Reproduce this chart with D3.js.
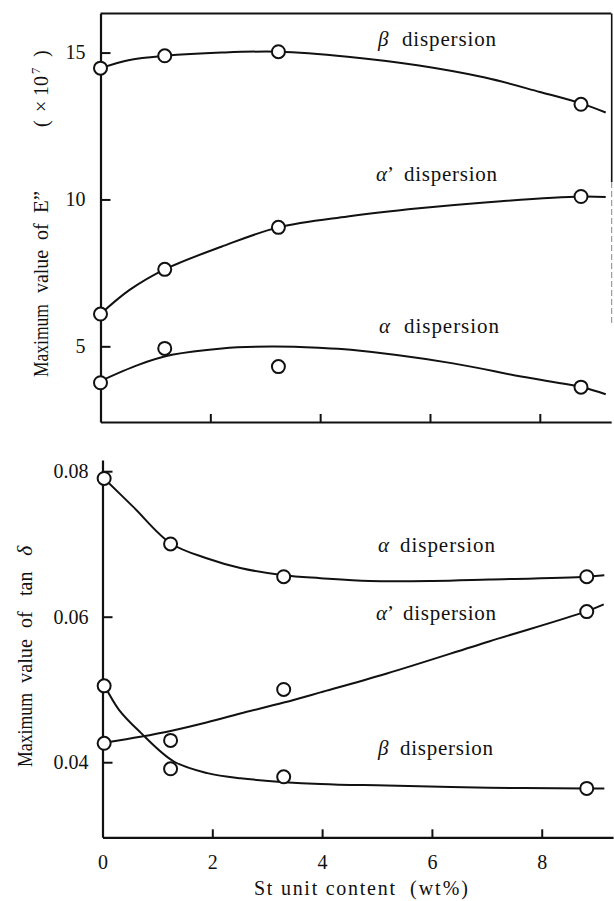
<!DOCTYPE html>
<html>
<head>
<meta charset="utf-8">
<script src="https://cdn.jsdelivr.net/npm/d3@7"></script>
<style>
  html, body { margin: 0; padding: 0; background: #fff; }
  svg { display: block; }
  text { font-family: "Liberation Serif", "DejaVu Serif", "Times New Roman", Times, serif; fill: #111; }
</style>
</head>
<body>
<svg id="chart" width="614" height="901"></svg>
<script>
// ---------------- DATA ----------------
// Upper panel: maximum value of E'' (x10^7)
const topX = [0, 1.17, 3.24, 8.75];
const eBeta = [14.47, 14.89, 15.03, 13.24];
const eAlphaPrime = [6.10, 7.62, 9.05, 10.10];
const eAlpha = [3.76, 4.93, 4.31, 3.61];

// hand-drawn fitted curves
const eBetaFit = [[0,14.47],[0.53,14.75],[1.17,14.89],[2.2,15.0],[3.24,15.03],[4.5,14.86],[5.8,14.56],[7.0,14.15],[8.0,13.66],[8.75,13.27],[9.2,12.96]];
const eAlphaPrimeFit = [[0,6.10],[0.53,6.92],[1.17,7.62],[2.2,8.39],[3.24,9.05],[4.5,9.42],[5.8,9.70],[7.0,9.90],[8.75,10.10],[9.2,10.08]];
const eAlphaFit = [[0,3.82],[0.69,4.37],[1.3,4.71],[2.21,4.93],[3.12,4.99],[3.97,4.95],[4.56,4.88],[6.42,4.42],[7.66,3.97],[8.77,3.61],[9.2,3.37]];

// Lower panel: maximum value of tan delta
const botX = [0.03, 1.24, 3.3, 8.82];
const tAlpha = [0.0790, 0.0700, 0.0655, 0.0655];
const tAlphaPrime = [0.0426, 0.0430, 0.0500, 0.0607];
const tBeta = [0.0505, 0.0391, 0.0380, 0.0364];

const tAlphaFit = [[0.03,0.0790],[0.56,0.0751],[1.24,0.0701],[1.91,0.0680],[2.51,0.0667],[3.3,0.0657],[3.97,0.0653],[4.87,0.0649],[6.0,0.0649],[7.04,0.0651],[8.82,0.0655],[9.14,0.0657]];
const tAlphaPrimeFit = [[0.06,0.0427],[0.69,0.0435],[1.24,0.0443],[1.91,0.0455],[2.51,0.0467],[3.3,0.0482],[3.97,0.0496],[5.18,0.0522],[7.04,0.0566],[8.80,0.0607],[9.13,0.0617]];
const tBetaFit = [[0.04,0.0505],[0.3,0.0472],[0.69,0.0441],[1.3,0.0401],[1.91,0.0385],[2.51,0.0378],[3.97,0.0370],[5.18,0.0368],[7.04,0.0365],[8.82,0.0364],[9.14,0.0364]];

const xTicks = [2, 4, 6, 8];
const xTickLabels = ["0", "2", "4", "6", "8"];
const eTicks = [5, 10, 15];
const tTicks = [0.04, 0.06, 0.08];

// ---------------- DRAW ----------------
const svg = d3.select("#chart");
svg.append("rect").attr("width", 614).attr("height", 901).attr("fill", "#fff");
const ink = "#111";
const SERIF = '"Liberation Serif", "DejaVu Serif", "Times New Roman", Times, serif';

// scales
const xTop = d3.scaleLinear().domain([0, 9.3]).range([100.5, 611.2]);
const yTop = d3.scaleLinear().domain([2.424, 16.33]).range([422, 13.5]);
const xBot = d3.scaleLinear().domain([0, 9.3]).range([102.5, 613.1]);
const yBot = d3.scaleLinear().domain([0.02968, 0.08154]).range([837.3, 460]);

function styleAxis(g) {
  g.selectAll("path.domain").attr("stroke", ink).attr("stroke-width", 2.2);
  g.selectAll(".tick line").attr("stroke", ink).attr("stroke-width", 2);
  g.attr("font-family", null).attr("font-size", null);
  g.selectAll(".tick text").attr("fill", ink)
    .style("font-family", SERIF)
    .style("font-size", "20px");
}

// ---- Upper panel ----
const gTop = svg.append("g");
gTop.append("line").attr("x1", xTop(0)).attr("x2", xTop.range()[1]).attr("y1", 13.5).attr("y2", 13.5)
  .attr("stroke", ink).attr("stroke-width", 2);
gTop.append("line").attr("x1", 611.7).attr("x2", 611.7).attr("y1", 13.5).attr("y2", 182)
  .attr("stroke", ink).attr("stroke-width", 1.6);
gTop.append("line").attr("x1", 611.7).attr("x2", 611.7).attr("y1", 182).attr("y2", 324)
  .attr("stroke", "#888").attr("stroke-width", 1).attr("stroke-dasharray", "6,3");

gTop.append("g").attr("transform", `translate(${xTop(0)},0)`)
  .call(d3.axisLeft(yTop).tickValues(eTicks).tickSizeInner(-10).tickSizeOuter(0).tickPadding(15).tickFormat(d3.format("d")))
  .call(styleAxis);
gTop.append("g").attr("transform", `translate(0,${yTop.range()[0]})`)
  .call(d3.axisBottom(xTop).tickValues(xTicks).tickSizeInner(-8).tickSizeOuter(0).tickFormat(""))
  .call(styleAxis);

const lineTop = d3.line().x(d => xTop(d[0])).y(d => yTop(d[1])).curve(d3.curveCatmullRom.alpha(0.5));
[eBetaFit, eAlphaPrimeFit, eAlphaFit].forEach(c => {
  gTop.append("path").attr("d", lineTop(c)).attr("fill", "none").attr("stroke", ink).attr("stroke-width", 2);
});
[eBeta, eAlphaPrime, eAlpha].forEach(s => {
  gTop.selectAll(null).data(s).enter().append("circle")
    .attr("cx", (d, i) => xTop(topX[i])).attr("cy", d => yTop(d)).attr("r", 6.5)
    .attr("fill", "#fff").attr("stroke", ink).attr("stroke-width", 2);
});

// ---- Lower panel ----
const gBot = svg.append("g");
gBot.append("g").attr("transform", `translate(${xBot(0)},0)`)
  .call(d3.axisLeft(yBot).tickValues(tTicks).tickSizeInner(-10).tickSizeOuter(0).tickPadding(14).tickFormat(d3.format(".2f")))
  .call(styleAxis);
const xAxB = gBot.append("g").attr("transform", `translate(0,${yBot.range()[0]})`)
  .call(d3.axisBottom(xBot).tickValues([0, 2, 4, 6, 8]).tickSizeInner(-8).tickSizeOuter(0).tickPadding(18)
    .tickFormat((d, i) => xTickLabels[i]))
  .call(styleAxis);
xAxB.selectAll(".tick line").filter(d => d === 0).remove();

const lineBot = d3.line().x(d => xBot(d[0])).y(d => yBot(d[1])).curve(d3.curveCatmullRom.alpha(0.5));
[tAlphaFit, tAlphaPrimeFit, tBetaFit].forEach(c => {
  gBot.append("path").attr("d", lineBot(c)).attr("fill", "none").attr("stroke", ink).attr("stroke-width", 2);
});
[tAlpha, tAlphaPrime, tBeta].forEach(s => {
  gBot.selectAll(null).data(s).enter().append("circle")
    .attr("cx", (d, i) => xBot(botX[i])).attr("cy", d => yBot(d)).attr("r", 6.5)
    .attr("fill", "#fff").attr("stroke", ink).attr("stroke-width", 2);
});

// ---- Series labels ----
function seriesLabel(greek, prime, gx, dx0, dx1, base) {
  const t = svg.append("text").attr("y", base).style("font-family", SERIF).style("font-size", "21px");
  t.append("tspan").attr("x", gx).style("font-style", "italic").text(greek);
  if (prime) t.append("tspan").text("\u2019");
  svg.append("text").attr("x", dx0).attr("y", base).style("font-family", SERIF).style("font-size", "21px")
    .attr("textLength", dx1 - dx0).attr("lengthAdjust", "spacing").text("dispersion");
}
seriesLabel("\u03B2", false, 378, 402, 496, 46);
seriesLabel("\u03B1", true, 376, 404, 497, 181);
seriesLabel("\u03B1", false, 379, 404, 499, 333);
seriesLabel("\u03B1", false, 378, 400, 495, 552);
seriesLabel("\u03B1", true, 376, 403, 496, 620);
seriesLabel("\u03B2", false, 378, 400, 493, 755);

// ---- Axis titles ----
function vword(str, bx, y0, opts = {}) {
  const t = svg.append("text").attr("transform", `translate(${bx},${y0}) rotate(-90)`)
    .style("font-family", SERIF).style("font-size", (opts.size || 20) + "px");
  if (opts.italic) t.style("font-style", "italic");
  if (opts.len) t.attr("textLength", opts.len).attr("lengthAdjust", "spacingAndGlyphs");
  return t.text(str);
}
vword("Maximum", 48, 377, { len: 73 });
vword("value", 48, 293, { len: 43 });
vword("of", 48, 240);
vword("E\u201D", 48, 213, { size: 21 });
{
  const t = svg.append("text").attr("transform", `translate(48,127) rotate(-90)`)
    .style("font-family", SERIF).style("font-size", "20px");
  t.append("tspan").attr("x", 0).text("(");
  t.append("tspan").attr("x", 15).text("\u00D7");
  t.append("tspan").attr("x", 31).text("10");
  t.append("tspan").attr("x", 53).attr("dy", -8).style("font-size", "13px").text("7");
  t.append("tspan").attr("x", 70).attr("dy", 8).text(")");
}
vword("Maximum", 32, 767, { len: 74 });
vword("value", 32, 683, { len: 44 });
vword("of", 32, 628);
vword("tan", 32, 596);
vword("\u03B4", 32, 556, { italic: true, size: 22 });

svg.append("text").attr("x", 254).attr("y", 895).style("font-family", SERIF).style("font-size", "20px")
  .attr("textLength", 141).attr("lengthAdjust", "spacing").text("St unit content");
svg.append("text").attr("x", 410).attr("y", 895).style("font-family", SERIF).style("font-size", "20px")
  .attr("textLength", 58).attr("lengthAdjust", "spacing").text("(wt%)");
</script>
</body>
</html>
